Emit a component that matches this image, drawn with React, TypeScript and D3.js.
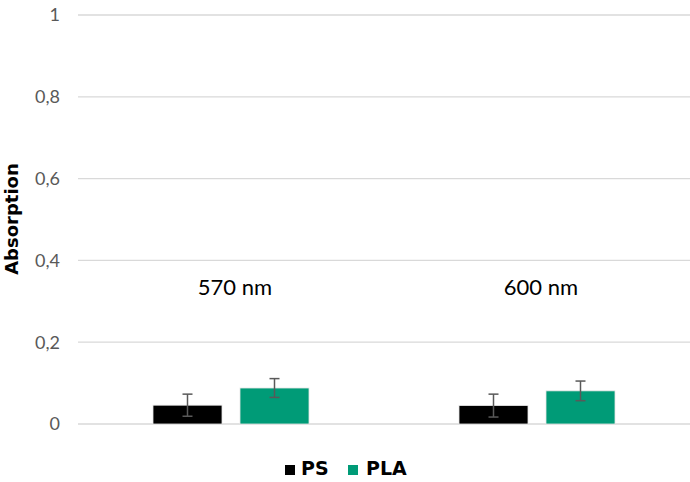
import React from "react";
import * as d3 from "d3";

const categories = ["570 nm", "600 nm"];
const seriesNames = ["PS", "PLA"];
const psValues = [0.046, 0.045];
const plaValues = [0.088, 0.081];
const psErrors = [0.027, 0.028];
const plaErrors = [0.023, 0.024];
const yTicks = [0, 0.2, 0.4, 0.6, 0.8, 1];
const colors = ["#000000", "#009B77"];

const W = 690;
const H = 482;
const plotLeft = 78;
const plotRight = 690;
const plotTop = 15;
const plotBottom = 424;
const font = "'Lato', 'Open Sans', sans-serif";
const boldFont = "'DejaVu Sans', sans-serif";

export default function App() {
  const x = d3.scaleBand<string>().domain(categories).range([plotLeft, plotRight]).paddingInner(0).paddingOuter(0);
  const x1 = d3.scaleBand<string>().domain(seriesNames).range([0, x.bandwidth()]).paddingInner(18 / 87).paddingOuter(75 / 87);
  const y = d3.scaleLinear().domain([0, 1]).range([plotBottom, plotTop]);
  const values = [psValues, plaValues];
  const errors = [psErrors, plaErrors];
  const fmt = (v: number) => (v === 0 || v === 1 ? String(v) : String(v).replace(".", ","));

  return (
    <svg width={W} height={H} style={{ position: "absolute", left: 0, top: 0 }} fontFamily={font}>
      <rect width={W} height={H} fill="#fff" />
      {yTicks.map((t) => (
        <g key={t}>
          <line x1={plotLeft} x2={plotRight} y1={y(t)} y2={y(t)} stroke="#d9d9d9" strokeWidth={1.3} />
          <text x={60} y={y(t)} dy="0.36em" textAnchor="end" fontSize={18} fill="#595959">
            {fmt(t)}
          </text>
        </g>
      ))}
      {categories.map((c, i) => (
        <g key={c}>
          {seriesNames.map((s, j) => {
            const bx = (x(c) as number) + (x1(s) as number);
            const v = values[j][i];
            const e = errors[j][i];
            const cx = bx + x1.bandwidth() / 2;
            return (
              <g key={s}>
                <rect x={bx} y={y(v)} width={x1.bandwidth()} height={y(0) - y(v)} fill={colors[j]} stroke="#e6e6e6" strokeWidth={0.8} />
                <line x1={cx} x2={cx} y1={y(v + e)} y2={y(v - e)} stroke="#595959" strokeWidth={1.5} />
                <line x1={cx - 5} x2={cx + 5} y1={y(v + e)} y2={y(v + e)} stroke="#595959" strokeWidth={1.5} />
                <line x1={cx - 5} x2={cx + 5} y1={y(v - e)} y2={y(v - e)} stroke="#595959" strokeWidth={1.5} />
              </g>
            );
          })}
          <text x={(x(c) as number) + x.bandwidth() / 2 + 4} y={y(0.335)} dy="0.36em" textAnchor="middle" fontSize={22} fill="#000">
            {c}
          </text>
        </g>
      ))}
      <text transform={`translate(18, 219) rotate(-90)`} textAnchor="middle" fontSize={18} fontWeight="bold" fontFamily={boldFont} fill="#000">
        Absorption
      </text>
      <g fontFamily={boldFont} fontWeight="bold" fontSize={19} fill="#000">
        <rect x={285} y={465} width={10} height={10} fill={colors[0]} />
        <text x={301} y={475}>PS</text>
        <rect x={348} y={465} width={10} height={10} fill={colors[1]} />
        <text x={366} y={475}>PLA</text>
      </g>
    </svg>
  );
}
